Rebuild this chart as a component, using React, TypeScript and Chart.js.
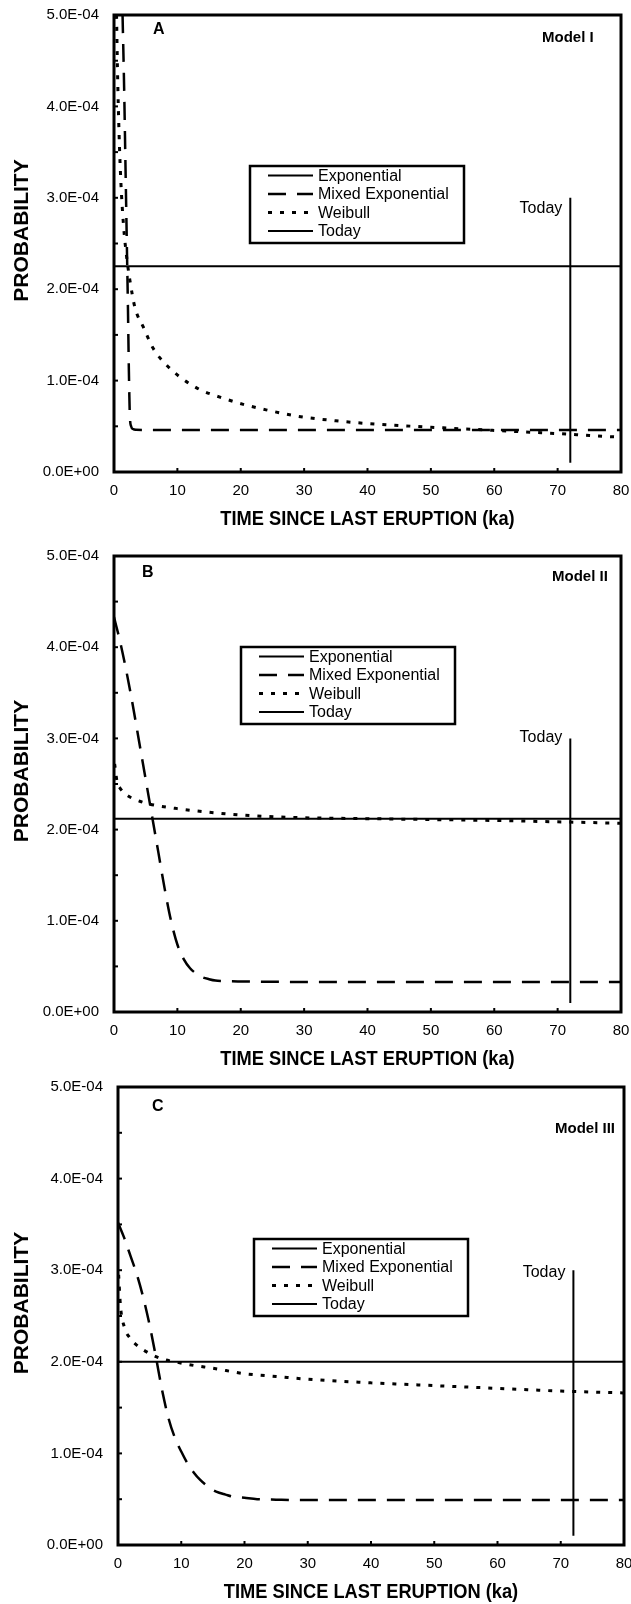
import React, { useEffect, useRef } from 'react';
import { Chart, registerables } from 'chart.js';

Chart.register(...registerables);

// ---------- text / ticks ----------
const X_TICK_LABELS = ['0', '10', '20', '30', '40', '50', '60', '70', '80'];
const Y_TICK_LABELS = ['0.0E+00', '1.0E-04', '2.0E-04', '3.0E-04', '4.0E-04', '5.0E-04'];
const SERIES_NAMES = ['Exponential', 'Mixed Exponential', 'Weibull', 'Today'];
const X_TITLE = 'TIME SINCE LAST ERUPTION (ka)';
const Y_TITLE = 'PROBABILITY';
const PANEL_LETTERS = ['A', 'B', 'C'];
const MODEL_NAMES = ['Model I', 'Model II', 'Model III'];
const TODAY_LABEL = 'Today';

// ---------- data ----------
const TODAY_X = [72, 72];
const TODAY_Y = [0.1e-4, 3.0e-4];
const EXP_X = [0, 80];

// Panel A (Model I)
const A_EXP_Y = [2.25e-4, 2.25e-4];
const A_MIXED_X = [1.35, 1.6, 1.8, 2.0, 2.2, 2.35, 2.5, 2.7, 3.0, 3.5, 5, 10, 20, 30, 40, 50, 60, 70, 80];
const A_MIXED_Y = [5.0e-4, 4.2e-4, 3.4e-4, 2.6e-4, 1.8e-4, 1.1e-4, 0.62e-4, 0.5e-4, 0.47e-4, 0.462e-4, 0.46e-4, 0.46e-4, 0.46e-4, 0.46e-4, 0.46e-4, 0.46e-4, 0.46e-4, 0.46e-4, 0.46e-4];
const A_WEIBULL_X = [0.4, 0.55, 0.8, 1.1, 1.5, 2.0, 2.5, 3.3, 4.6, 6.2, 8.3, 10.4, 13.6, 16.7, 20.4, 24, 29, 35, 40, 50, 60, 70, 80];
const A_WEIBULL_Y = [5.0e-4, 4.4e-4, 3.7e-4, 3.15e-4, 2.7e-4, 2.35e-4, 2.1e-4, 1.8e-4, 1.59e-4, 1.35e-4, 1.17e-4, 1.04e-4, 0.9e-4, 0.82e-4, 0.74e-4, 0.68e-4, 0.61e-4, 0.56e-4, 0.53e-4, 0.49e-4, 0.455e-4, 0.42e-4, 0.38e-4];

// Panel B (Model II)
const B_EXP_Y = [2.12e-4, 2.12e-4];
const B_MIXED_X = [0, 1, 2, 3, 4, 5, 6, 7, 8, 9, 10, 11, 12, 13, 14, 15, 16, 17, 20, 30, 40, 50, 60, 70, 80];
const B_MIXED_Y = [4.33e-4, 4.05e-4, 3.72e-4, 3.35e-4, 2.95e-4, 2.55e-4, 2.15e-4, 1.75e-4, 1.35e-4, 1.0e-4, 0.74e-4, 0.58e-4, 0.48e-4, 0.42e-4, 0.38e-4, 0.36e-4, 0.345e-4, 0.34e-4, 0.335e-4, 0.33e-4, 0.33e-4, 0.33e-4, 0.33e-4, 0.33e-4, 0.33e-4];
const B_WEIBULL_X = [0.1, 0.5, 1, 2, 3, 5, 7, 10, 15, 20, 30, 40, 50, 60, 70, 80];
const B_WEIBULL_Y = [2.72e-4, 2.52e-4, 2.45e-4, 2.38e-4, 2.34e-4, 2.29e-4, 2.26e-4, 2.23e-4, 2.19e-4, 2.16e-4, 2.13e-4, 2.12e-4, 2.11e-4, 2.1e-4, 2.085e-4, 2.07e-4];

// Panel C (Model III)
const C_EXP_Y = [2.0e-4, 2.0e-4];
const C_MIXED_X = [0, 1, 2, 3, 4, 5, 6, 7, 8, 9, 10, 11, 12, 13, 14, 15, 16, 17, 18, 20, 22, 25, 30, 40, 50, 60, 70, 80];
const C_MIXED_Y = [3.52e-4, 3.35e-4, 3.15e-4, 2.95e-4, 2.7e-4, 2.4e-4, 2.05e-4, 1.68e-4, 1.38e-4, 1.17e-4, 1.02e-4, 0.89e-4, 0.79e-4, 0.71e-4, 0.65e-4, 0.6e-4, 0.57e-4, 0.55e-4, 0.53e-4, 0.515e-4, 0.5e-4, 0.495e-4, 0.49e-4, 0.49e-4, 0.49e-4, 0.49e-4, 0.49e-4, 0.49e-4];
const C_WEIBULL_X = [0.1, 0.4, 1, 2, 3, 5, 7, 9, 12, 15, 20, 25, 30, 40, 50, 60, 70, 80];
const C_WEIBULL_Y = [2.95e-4, 2.6e-4, 2.38e-4, 2.25e-4, 2.18e-4, 2.09e-4, 2.03e-4, 2.0e-4, 1.96e-4, 1.93e-4, 1.87e-4, 1.84e-4, 1.81e-4, 1.77e-4, 1.74e-4, 1.71e-4, 1.68e-4, 1.66e-4];

const PANEL_DATA = [
  { expY: A_EXP_Y, mixX: A_MIXED_X, mixY: A_MIXED_Y, weiX: A_WEIBULL_X, weiY: A_WEIBULL_Y },
  { expY: B_EXP_Y, mixX: B_MIXED_X, mixY: B_MIXED_Y, weiX: B_WEIBULL_X, weiY: B_WEIBULL_Y },
  { expY: C_EXP_Y, mixX: C_MIXED_X, mixY: C_MIXED_Y, weiX: C_WEIBULL_X, weiY: C_WEIBULL_Y },
];

// ---------- layout (page pixel coordinates) ----------
const PAGE_W = 631;
const LAYOUT = [
  { top: 0, height: 535, chartTop: 15, chartBottom: 472, left: 114, right: 621, letter: [153, 30], model: [542, 38], legend: [250, 166], todayDy: 11 },
  { top: 540, height: 535, chartTop: 556, chartBottom: 1012, left: 114, right: 621, letter: [142, 573], model: [552, 577], legend: [241, 647], todayDy: -1 },
  { top: 1072, height: 532, chartTop: 1087, chartBottom: 1545, left: 118, right: 624, letter: [152, 1107], model: [555, 1129], legend: [254, 1239], todayDy: 2 },
];

const FONT = "'Liberation Sans', Arial, Helvetica, sans-serif";

const pts = (xs: number[], ys: number[]) => xs.map((x, k) => ({ x, y: ys[k] }));

function makeOverlay(i: number) {
  const L = LAYOUT[i];
  const off = L.top;
  return {
    id: 'overlay' + i,
    afterDraw(chart: any) {
      const { ctx, chartArea: ca } = chart;
      const xs = chart.scales.x;
      const ys = chart.scales.y;
      ctx.save();
      ctx.strokeStyle = '#000';
      ctx.fillStyle = '#000';
      ctx.setLineDash([]);

      // frame
      ctx.lineWidth = 3;
      ctx.strokeRect(ca.left, ca.top, ca.right - ca.left, ca.bottom - ca.top);

      // inward ticks
      ctx.lineWidth = 2;
      const yv = ys.ticks.map((t: any) => t.value);
      const yMarks: number[] = [];
      yv.forEach((v: number, k: number) => {
        yMarks.push(v);
        if (k < yv.length - 1) yMarks.push((v + yv[k + 1]) / 2);
      });
      yMarks.forEach((v) => {
        const py = ys.getPixelForValue(v);
        ctx.beginPath();
        ctx.moveTo(ca.left, py);
        ctx.lineTo(ca.left + 4, py);
        ctx.stroke();
      });
      xs.ticks.forEach((t: any) => {
        const px = xs.getPixelForValue(t.value);
        ctx.beginPath();
        ctx.moveTo(px, ca.bottom);
        ctx.lineTo(px, ca.bottom - 4);
        ctx.stroke();
      });

      // legend box
      const bx = L.legend[0];
      const by = L.legend[1] - off;
      const bw = 214;
      const bh = 77;
      ctx.lineWidth = 2.5;
      ctx.strokeRect(bx, by, bw, bh);
      ctx.font = `16px ${FONT}`;
      ctx.textAlign = 'left';
      ctx.textBaseline = 'middle';
      chart.data.datasets.forEach((ds: any, k: number) => {
        const ry = by + 9.5 + k * 18.5;
        ctx.save();
        ctx.lineWidth = ds.borderWidth;
        ctx.setLineDash(ds.borderDash || []);
        ctx.beginPath();
        ctx.moveTo(bx + 18, ry);
        ctx.lineTo(bx + 63, ry);
        ctx.stroke();
        ctx.restore();
        ctx.fillText(ds.label, bx + 68, ry + 1);
      });

      // Today label
      ctx.font = `16px ${FONT}`;
      ctx.textAlign = 'right';
      ctx.textBaseline = 'middle';
      ctx.fillText(TODAY_LABEL, xs.getPixelForValue(TODAY_X[1]) - 8, ys.getPixelForValue(TODAY_Y[1]) + L.todayDy);

      // panel letter and model name
      ctx.font = `bold 16px ${FONT}`;
      ctx.textAlign = 'left';
      ctx.fillText(PANEL_LETTERS[i], L.letter[0], L.letter[1] - off);
      ctx.font = `bold 15px ${FONT}`;
      ctx.fillText(MODEL_NAMES[i], L.model[0], L.model[1] - off);

      // axis titles
      ctx.textAlign = 'center';
      ctx.textBaseline = 'middle';
      ctx.save();
      ctx.translate((ca.left + ca.right) / 2, ca.bottom + 47);
      ctx.scale(0.87, 1);
      ctx.font = `bold 21px ${FONT}`;
      ctx.fillText(X_TITLE, 0, 0);
      ctx.restore();

      ctx.save();
      ctx.translate(22, (ca.top + ca.bottom) / 2 - 13);
      ctx.rotate(-Math.PI / 2);
      ctx.font = `bold 21px ${FONT}`;
      ctx.fillText(Y_TITLE, 0, 0);
      ctx.restore();

      ctx.restore();
    },
  };
}

function Panel({ i }: { i: number }) {
  const ref = useRef<HTMLCanvasElement | null>(null);
  const L = LAYOUT[i];
  useEffect(() => {
    const d = PANEL_DATA[i];
    const chart = new Chart(ref.current as HTMLCanvasElement, {
      type: 'line',
      data: {
        datasets: [
          { label: SERIES_NAMES[0], data: pts(EXP_X, d.expY), borderColor: '#000', borderWidth: 2, pointRadius: 0 },
          { label: SERIES_NAMES[1], data: pts(d.mixX, d.mixY), borderColor: '#000', borderWidth: 2.5, borderDash: [18, 11], pointRadius: 0, cubicInterpolationMode: 'monotone' },
          { label: SERIES_NAMES[2], data: pts(d.weiX, d.weiY), borderColor: '#000', borderWidth: 3, borderDash: [4, 8], pointRadius: 0, cubicInterpolationMode: 'monotone' },
          { label: SERIES_NAMES[3], data: pts(TODAY_X, TODAY_Y), borderColor: '#000', borderWidth: 2, pointRadius: 0 },
        ],
      } as any,
      options: {
        responsive: false,
        animation: false,
        devicePixelRatio: 1,
        layout: { padding: { top: L.chartTop - L.top, right: PAGE_W - L.right, left: 0, bottom: 0 } },
        plugins: { legend: { display: false }, tooltip: { enabled: false } },
        scales: {
          x: {
            type: 'linear',
            min: 0,
            max: 80,
            ticks: {
              stepSize: 10,
              autoSkip: false,
              maxRotation: 0,
              padding: 10,
              color: '#000',
              font: { family: FONT, size: 15 },
              callback: (_v: any, idx: number) => X_TICK_LABELS[idx],
            },
            grid: { display: false, drawTicks: false },
            border: { display: false },
            afterFit: (s: any) => {
              s.height = L.height - (L.chartBottom - L.top);
              s.paddingLeft = 0;
              s.paddingRight = 0;
            },
          },
          y: {
            type: 'linear',
            min: 0,
            max: 5e-4,
            ticks: {
              stepSize: 1e-4,
              padding: 15,
              color: '#000',
              font: { family: FONT, size: 15 },
              callback: (_v: any, idx: number) => Y_TICK_LABELS[idx],
            },
            grid: { display: false, drawTicks: false },
            border: { display: false },
            afterFit: (s: any) => {
              s.width = L.left;
              s.paddingTop = 0;
              s.paddingBottom = 0;
            },
          },
        },
      } as any,
      plugins: [makeOverlay(i)],
    });
    return () => chart.destroy();
  }, [i]);
  return (
    <canvas
      ref={ref}
      width={PAGE_W}
      height={L.height}
      style={{ position: 'absolute', left: 0, top: L.top, width: PAGE_W, height: L.height }}
    />
  );
}

export default function App() {
  return (
    <div style={{ position: 'absolute', left: 0, top: 0, width: PAGE_W, height: 1604, overflow: 'hidden', background: '#fff' }}>
      {LAYOUT.map((_, i) => (
        <Panel key={i} i={i} />
      ))}
    </div>
  );
}
